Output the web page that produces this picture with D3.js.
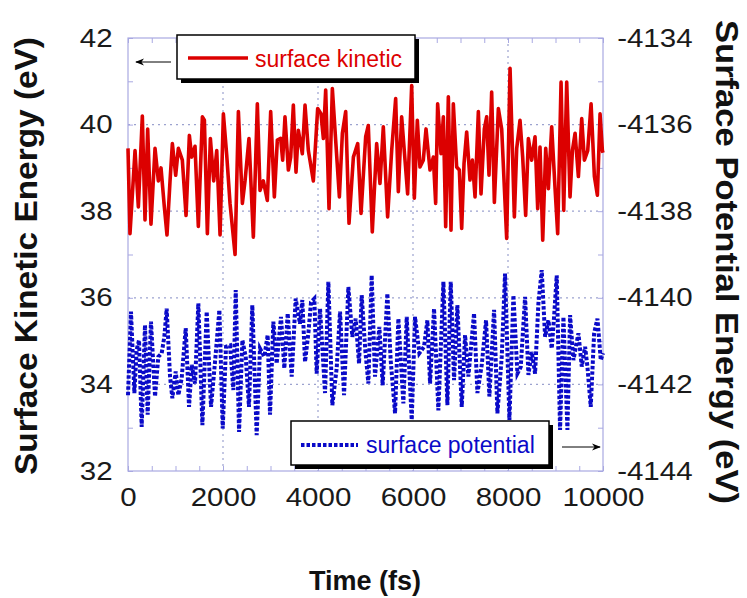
<!DOCTYPE html>
<html lang="en">
<head>
    <meta charset="UTF-8">
    <title>Surface Energy vs Time</title>
    <script src="https://cdnjs.cloudflare.com/ajax/libs/d3/7.9.0/d3.min.js"></script>
    <style>
        body { margin: 0; background: white; }
        svg text { font-family: "Liberation Sans", Arial, sans-serif; }
    </style>
</head>
<body>
    <svg id="chart" width="747" height="598"></svg>

    <script>
        // time (fs) / surface kinetic energy (eV), left axis
        const kineticTime = [0, 42, 148, 218, 302, 358, 414, 484, 569, 639, 695, 765, 821, 885, 934, 1004, 1060, 1144, 1222, 1292,
            1341, 1411, 1481, 1566, 1608, 1671, 1734, 1804, 1868, 1938, 2008, 2078, 2148, 2254, 2324, 2408, 2464, 2547, 2639, 2723,
            2779, 2849, 2933, 3004, 3081, 3144, 3214, 3256, 3305, 3376, 3425, 3481, 3537, 3586, 3670, 3727, 3797, 3902, 3993, 4063,
            4113, 4162, 4232, 4302, 4372, 4450, 4513, 4583, 4653, 4745, 4836, 4906, 5004, 5059, 5143, 5235, 5305, 5375, 5466, 5551,
            5635, 5691, 5761, 5887, 5972, 6028, 6091, 6147, 6217, 6274, 6358, 6428, 6477, 6519, 6590, 6639, 6688, 6744, 6800, 6849,
            6919, 6976, 7025, 7074, 7130, 7200, 7250, 7306, 7376, 7432, 7502, 7551, 7600, 7656, 7713, 7797, 7867, 7972, 8043, 8134,
            8183, 8253, 8309, 8372, 8429, 8499, 8569, 8625, 8674, 8731, 8794, 8850, 8920, 8991, 9046, 9117, 9173, 9236, 9306, 9356,
            9412, 9482, 9552, 9608, 9678, 9749, 9819, 9882, 9938, 9987, 10000];
        const kinetic = [39.45, 37.48, 39.4, 38.1, 40.2, 37.8, 39.9, 37.7, 39.45, 38.7, 39.0, 38.1, 37.45, 38.7, 39.56, 38.83, 39.45, 39.18, 37.9, 39.75,
            39.25, 39.5, 37.65, 40.18, 40.1, 37.48, 39.68, 38.7, 39.4, 37.45, 40.25, 39.3, 38.18, 37.0, 40.3, 38.18, 38.7, 39.68, 37.4, 40.48,
            38.48, 38.7, 38.25, 40.3, 38.33, 39.64, 39.68, 39.18, 40.18, 38.95, 39.25, 40.45, 38.9, 39.87, 39.33, 40.45, 39.4, 38.7, 40.37, 40.25,
            39.68, 40.8, 38.06, 40.83, 39.64, 38.33, 39.8, 40.3, 37.72, 39.25, 39.56, 37.95, 39.72, 39.98, 37.52, 39.56, 38.64, 39.95, 37.87, 39.4,
            40.6, 38.45, 40.18, 38.4, 40.9, 38.3, 40.1, 39.02, 39.18, 39.9, 38.95, 39.25, 38.18, 40.48, 39.33, 40.18, 37.64, 40.64, 37.56, 40.48,
            39.02, 38.95, 37.6, 39.1, 39.83, 38.72, 39.18, 38.33, 40.3, 38.4, 39.9, 40.18, 38.83, 40.75, 38.2, 40.37, 39.9, 37.37, 41.3, 37.87,
            39.45, 40.1, 39.25, 37.9, 39.68, 39.18, 39.72, 38.06, 39.48, 37.33, 39.45, 38.52, 39.95, 38.52, 37.48, 40.98, 38.02, 40.98, 38.33, 39.4,
            39.8, 38.8, 40.14, 39.18, 39.4, 40.48, 38.8, 38.37, 40.25, 39.4, 39.35];

        // time (fs) / surface potential energy (eV), right axis
        const potentialTime = [0, 63, 134, 183, 232, 288, 358, 414, 484, 569, 639, 709, 765, 814, 885, 934, 1004, 1060, 1130, 1215,
            1285, 1341, 1411, 1481, 1566, 1657, 1748, 1832, 1924, 1994, 2064, 2148, 2219, 2268, 2338, 2408, 2478, 2547, 2617, 2709,
            2779, 2870, 2940, 2990, 3060, 3130, 3221, 3291, 3362, 3446, 3530, 3621, 3670, 3727, 3797, 3853, 3923, 3972, 4043, 4148,
            4218, 4302, 4393, 4464, 4548, 4639, 4723, 4793, 4864, 4920, 4995, 5060, 5130, 5200, 5292, 5362, 5460, 5530, 5622, 5692,
            5797, 5868, 5973, 6043, 6134, 6232, 6303, 6359, 6443, 6534, 6640, 6724, 6794, 6864, 6934, 7026, 7096, 7166, 7285, 7356,
            7447, 7538, 7608, 7707, 7777, 7868, 7938, 8030, 8114, 8198, 8268, 8360, 8430, 8500, 8570, 8640, 8710, 8781, 8851, 8921,
            8970, 9026, 9096, 9167, 9251, 9307, 9377, 9483, 9553, 9623, 9672, 9742, 9813, 9883, 9953, 10000];
        const potential = [-4142.25, -4140.32, -4142.2, -4141.2, -4140.98, -4142.98, -4140.63, -4142.7, -4140.55, -4142.28,
            -4141.36, -4141.28, -4140.9, -4140.25, -4141.82, -4142.32, -4141.7, -4142.25, -4141.86, -4140.7,
            -4142.52, -4141.55, -4141.98, -4140.13, -4142.94, -4140.32, -4142.52, -4141.48, -4140.28, -4143.02,
            -4141.13, -4141.1, -4142.13, -4139.82, -4143.1, -4140.98, -4141.36, -4142.52, -4140.17, -4143.17,
            -4141.17, -4141.36, -4140.86, -4142.7, -4140.55, -4141.52, -4140.44, -4141.63, -4140.36, -4141.82,
            -4140.02, -4140.6, -4140.05, -4141.48, -4140.82, -4140.1, -4140.02, -4141.75, -4140.25, -4142.2,
            -4139.63, -4142.48, -4141.63, -4140.32, -4142.25, -4139.75, -4140.9, -4140.48, -4141.52, -4139.94,
            -4141.2, -4141.98, -4139.48, -4141.82, -4140.67, -4142.02, -4139.9, -4141.44, -4142.67, -4140.48,
            -4142.44, -4140.44, -4142.82, -4140.44, -4141.28, -4141.13, -4140.52, -4141.98, -4140.25, -4142.6,
            -4139.63, -4142.48, -4139.63, -4141.9, -4140.17, -4142.52, -4140.86, -4141.82, -4140.36, -4142.2,
            -4141.55, -4140.52, -4142.28, -4140.28, -4142.67, -4141.36, -4139.44, -4142.82, -4139.94, -4141.75,
            -4141.6, -4139.98, -4141.78, -4141.25, -4141.75, -4140.13, -4139.36, -4140.9, -4140.52, -4141.17,
            -4140.44, -4139.48, -4143.05, -4140.44, -4143.05, -4140.4, -4141.44, -4140.82, -4141.59, -4141.13,
            -4141.59, -4142.52, -4140.82, -4140.48, -4141.44, -4141.28];

        const xTicks = [0, 2000, 4000, 6000, 8000, 10000];
        const leftTicks = [32, 34, 36, 38, 40, 42];
        const rightTicks = [-4144, -4142, -4140, -4138, -4136, -4134];

        const svg = d3.select("#chart");
        const m = { left: 128, right: 603, top: 38, bottom: 471 };
        const frameColor = "#a9a9e2";
        const gridColor = "#9ca2cf";
        const labelScale = "scale(1.18,1)";
        const plain = d => String(d);  // keep hyphen minus, no thousands comma

        const x = d3.scaleLinear().domain([0, 10000]).range([m.left, m.right]);
        const yL = d3.scaleLinear().domain([32, 42]).range([m.bottom, m.top]);
        const yR = d3.scaleLinear().domain([-4144, -4134]).range([m.bottom, m.top]);

        // dotted grid
        const grid = svg.append("g");
        grid.selectAll(".gx").data(xTicks.slice(1, -1)).join("line")
            .attr("x1", d => x(d)).attr("x2", d => x(d))
            .attr("y1", m.top).attr("y2", m.bottom);
        grid.selectAll(".gy").data(leftTicks.slice(1, -1)).join("line")
            .attr("class", "gy")
            .attr("x1", m.left).attr("x2", m.right)
            .attr("y1", d => yL(d)).attr("y2", d => yL(d));
        grid.selectAll("line")
            .attr("stroke", gridColor).attr("stroke-width", 1.2)
            .attr("stroke-dasharray", "2,4");

        // inward minor ticks on all four sides
        const tickG = svg.append("g");
        tickG.append("g").attr("transform", `translate(0,${m.bottom})`)
            .call(d3.axisBottom(x).ticks(20).tickSize(-5).tickFormat(""));
        tickG.append("g").attr("transform", `translate(0,${m.top})`)
            .call(d3.axisTop(x).ticks(20).tickSize(-5).tickFormat(""));
        tickG.append("g").attr("transform", `translate(${m.left},0)`)
            .call(d3.axisLeft(yL).ticks(10).tickSize(-5).tickFormat(""));
        tickG.append("g").attr("transform", `translate(${m.right},0)`)
            .call(d3.axisRight(yR).ticks(10).tickSize(-5).tickFormat(""));
        tickG.selectAll(".domain").remove();
        tickG.selectAll("line").attr("stroke", frameColor);

        // frame
        svg.append("rect")
            .attr("x", m.left).attr("y", m.top)
            .attr("width", m.right - m.left).attr("height", m.bottom - m.top)
            .attr("fill", "none").attr("stroke", frameColor).attr("stroke-width", 1.2);

        // tick labels
        const styleLabels = g => {
            g.select(".domain").remove();
            g.selectAll("text")
                .attr("font-size", 25).attr("fill", "#1a1a1a")
                .attr("transform", labelScale);
        };
        svg.append("g").attr("transform", `translate(${m.left},0)`)
            .call(d3.axisLeft(yL).tickValues(leftTicks).tickFormat(plain).tickSize(0).tickPadding(13))
            .call(styleLabels);
        svg.append("g").attr("transform", `translate(${m.right},0)`)
            .call(d3.axisRight(yR).tickValues(rightTicks).tickFormat(plain).tickSize(0).tickPadding(12))
            .call(styleLabels);
        svg.append("g").attr("transform", `translate(0,${m.bottom})`)
            .call(d3.axisBottom(x).tickValues(xTicks).tickFormat(plain).tickSize(0).tickPadding(17))
            .call(styleLabels);

        // series
        const kLine = d3.line().x(d => x(d[0])).y(d => yL(d[1]));
        const pLine = d3.line().x(d => x(d[0])).y(d => yR(d[1]));

        svg.append("path")
            .datum(d3.zip(potentialTime, potential))
            .attr("d", pLine)
            .attr("fill", "none").attr("stroke", "#0a0ac8")
            .attr("stroke-width", 4).attr("stroke-dasharray", "3.5,2")
            .attr("stroke-linejoin", "miter");

        svg.append("path")
            .datum(d3.zip(kineticTime, kinetic))
            .attr("d", kLine)
            .attr("fill", "none").attr("stroke", "#dc0000")
            .attr("stroke-width", 3.6).attr("stroke-linejoin", "round");

        // legends with drop shadow
        function legendBox(x0, y0, w, h) {
            svg.append("rect").attr("x", x0 + 4).attr("y", y0 + 4)
                .attr("width", w).attr("height", h).attr("fill", "#000");
            svg.append("rect").attr("x", x0).attr("y", y0)
                .attr("width", w).attr("height", h)
                .attr("fill", "white").attr("stroke", "#000").attr("stroke-width", 1.5);
        }

        legendBox(177, 35, 238, 44);
        svg.append("line").attr("x1", 188).attr("x2", 248).attr("y1", 58).attr("y2", 58)
            .attr("stroke", "#dc0000").attr("stroke-width", 3.6);
        svg.append("text").attr("x", 255).attr("y", 67)
            .attr("font-size", 23).attr("fill", "#dc0000").text("surface kinetic");

        legendBox(291, 421, 258, 44);
        svg.append("line").attr("x1", 301).attr("x2", 358).attr("y1", 445).attr("y2", 445)
            .attr("stroke", "#0a0ac8").attr("stroke-width", 4).attr("stroke-dasharray", "3.5,2");
        svg.append("text").attr("x", 366).attr("y", 453)
            .attr("font-size", 23).attr("fill", "#0a0ac8").text("surface potential");

        // arrows pointing to the relevant axis
        svg.append("defs").append("marker")
            .attr("id", "head").attr("viewBox", "0 0 10 10")
            .attr("refX", 9).attr("refY", 5)
            .attr("markerWidth", 9).attr("markerHeight", 9)
            .attr("orient", "auto-start-reverse")
            .append("path").attr("d", "M0,1 L10,5 L0,9 L3,5 Z").attr("fill", "#000");
        svg.append("line").attr("x1", 171).attr("x2", 136).attr("y1", 62).attr("y2", 62)
            .attr("stroke", "#000").attr("stroke-width", 1).attr("marker-end", "url(#head)");
        svg.append("line").attr("x1", 562).attr("x2", 600).attr("y1", 447).attr("y2", 447)
            .attr("stroke", "#000").attr("stroke-width", 1).attr("marker-end", "url(#head)");

        // axis titles
        svg.append("text")
            .attr("transform", `translate(37,256) rotate(-90)`)
            .attr("text-anchor", "middle").attr("font-size", 31).attr("font-weight", "bold")
            .attr("textLength", 438).attr("lengthAdjust", "spacingAndGlyphs")
            .attr("fill", "#111").text("Surface Kinetic Energy (eV)");
        svg.append("text")
            .attr("transform", `translate(716,262) rotate(90)`)
            .attr("text-anchor", "middle").attr("font-size", 31).attr("font-weight", "bold")
            .attr("textLength", 484).attr("lengthAdjust", "spacingAndGlyphs")
            .attr("fill", "#111").text("Surface Potential Energy (eV)");
        svg.append("text")
            .attr("x", 365).attr("y", 590)
            .attr("text-anchor", "middle").attr("font-size", 27).attr("font-weight", "bold")
            .attr("fill", "#111").text("Time (fs)");
    </script>
</body>
</html>
